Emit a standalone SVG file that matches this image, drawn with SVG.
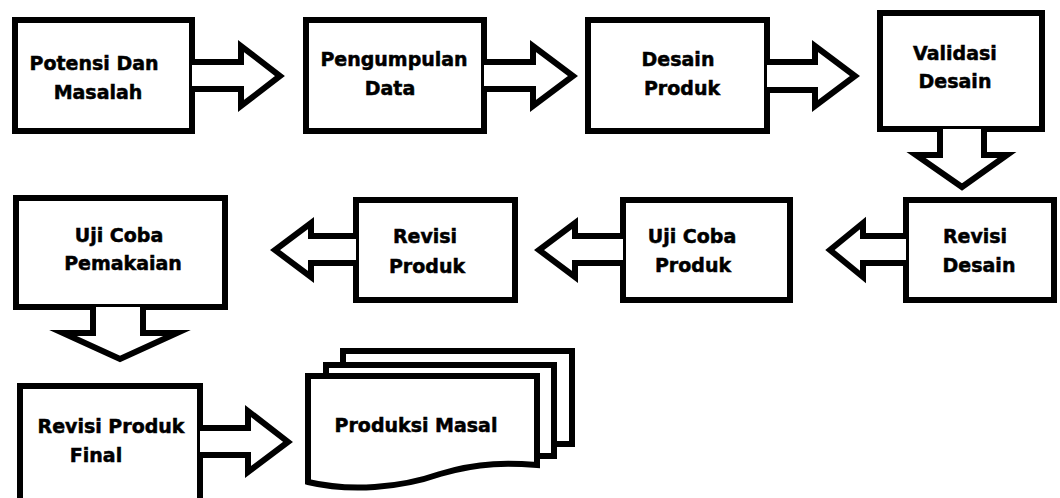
<svg xmlns="http://www.w3.org/2000/svg" width="1060" height="498" viewBox="0 0 1060 498">
<style>
.box{fill:#fff;stroke:#000;stroke-width:6}
.arr{fill:#fff;stroke:#000;stroke-width:6;stroke-linejoin:miter;stroke-miterlimit:10}
text{font-family:"DejaVu Sans","Liberation Sans",sans-serif;font-weight:bold;font-size:19px;fill:#000;stroke:#000;stroke-width:0.5;text-anchor:middle}
</style>
<rect width="1060" height="498" fill="#fff"/>
<g id="n1"><rect class="box" x="15" y="20" width="177" height="111"/><text x="94" y="70">Potensi Dan</text><text x="98" y="99">Masalah</text></g>
<g id="n2"><rect class="box" x="306" y="20" width="178" height="111"/><text x="394" y="66">Pengumpulan</text><text x="390" y="95">Data</text></g>
<g id="n3"><rect class="box" x="588" y="20" width="179" height="111"/><text x="678" y="66">Desain</text><text x="682" y="95">Produk</text></g>
<g id="n4"><rect class="box" x="880" y="13" width="162" height="116"/><text x="955" y="60">Validasi</text><text x="955" y="88">Desain</text></g>
<g id="n5"><rect class="box" x="906" y="200" width="148" height="100"/><text x="975" y="243">Revisi</text><text x="979" y="272">Desain</text></g>
<g id="n6"><rect class="box" x="623" y="200" width="167" height="100"/><text x="692" y="243">Uji Coba</text><text x="693" y="272">Produk</text></g>
<g id="n7"><rect class="box" x="356" y="200" width="159" height="100"/><text x="425" y="243">Revisi</text><text x="427" y="273">Produk</text></g>
<g id="n8"><rect class="box" x="16" y="198" width="209" height="109"/><text x="119" y="242">Uji Coba</text><text x="123" y="270">Pemakaian</text></g>
<g id="n9"><rect class="box" x="20" y="386" width="180" height="122"/><text x="111" y="433">Revisi Produk</text><text x="96" y="462">Final</text></g>
<g id="n10">
<rect class="box" x="343" y="351" width="229" height="93"/>
<rect class="box" x="326" y="365" width="228" height="91"/>
<path class="box" d="M308,376 L537,376 L537,465 C510,463 480,462 440,474 C400,488 350,492 308,482 Z"/>
<text x="416" y="432">Produksi Masal</text>
</g>
<g id="connectors">
<path class="arr" d="M192,62 L241,62 L241,46 L280,76 L241,106 L241,89 L192,89"/>
<path class="arr" d="M484,62 L533,62 L533,46 L573,76 L533,106 L533,89 L484,89"/>
<path class="arr" d="M767,62 L815,62 L815,46 L855,76 L815,106 L815,90 L767,90"/>
<path class="arr" d="M940,129 L940,155 L916,155 L962,187 L1007,155 L984,155 L984,129"/>
<path class="arr" d="M906,236 L863,236 L863,223 L830,250 L863,277 L863,263 L906,263"/>
<path class="arr" d="M623,236 L575,236 L575,223 L539,250 L575,277 L575,263 L623,263"/>
<path class="arr" d="M356,236 L311,236 L311,223 L275,250 L311,277 L311,263 L356,263"/>
<path class="arr" d="M93,307 L93,333 L63,333 L120,359 L177,333 L143,333 L143,307"/>
<path class="arr" d="M200,428 L248,428 L248,411 L288,442 L248,472 L248,455 L200,455"/>
</g>
</svg>
